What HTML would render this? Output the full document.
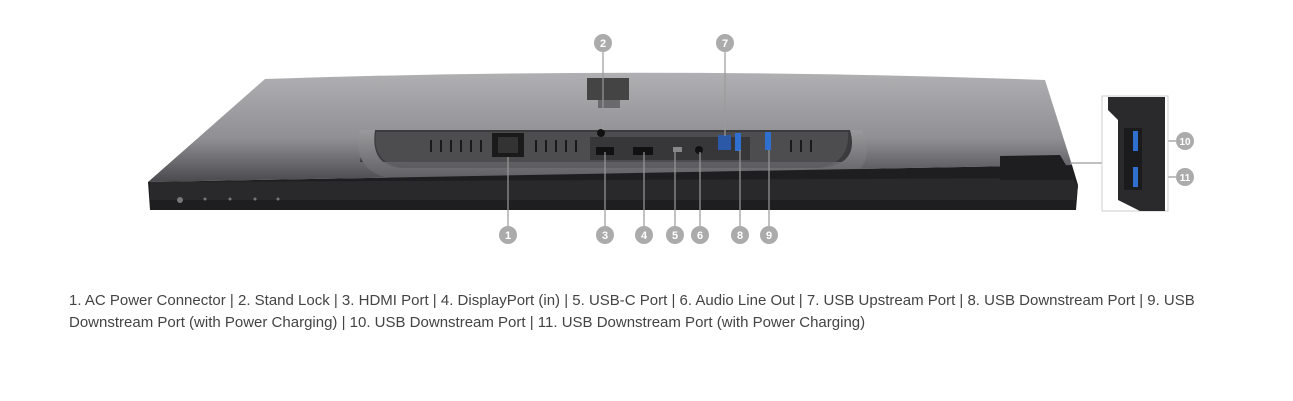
<!DOCTYPE html>
<html><head><meta charset="utf-8"><style>
body{margin:0;background:#fff;width:1293px;height:401px;overflow:hidden;position:relative}
svg{position:absolute;left:0;top:0}
.t{position:absolute;left:69px;top:290px;width:1140px;font:15px/22px "Liberation Sans",sans-serif;color:#444}
</style></head><body>
<svg width="1293" height="401" viewBox="0 0 1293 401">
<defs>
<linearGradient id="sv" x1="0" y1="0" x2="0" y2="1"><stop offset="0" stop-color="#b0b0b3"/><stop offset="0.6" stop-color="#909094"/><stop offset="1" stop-color="#4a4a4e"/></linearGradient>
<linearGradient id="st" x1="0" y1="0" x2="0" y2="1"><stop offset="0" stop-color="#9a9a9d"/><stop offset="1" stop-color="#5e5e62"/></linearGradient>
</defs>
<path d="M265 79 Q650 66 1045 80 L1072 165 L148 182 Z" fill="url(#sv)"/>
<path d="M365 130 L858 130 L862 162 L360 162 Z" fill="#3b3b3e"/>
<path d="M360 130 Q350 175 400 180 L830 180 Q880 175 862 130 L850 130 Q860 165 820 168 L400 168 Q370 165 375 130 Z" fill="url(#st)"/>
<path d="M376 132 Q372 165 405 168 L815 168 Q850 165 848 132 Z" fill="#5a5a5e" opacity="0.6"/>
<path d="M148 182 L1072 165 L1078 185 L1076 210 L150 210 Z" fill="#1e1e20"/>
<path d="M150 182 L1072 178 L1078 186 L1076 200 L150 200 Z" fill="#29292b"/>
<path d="M1000 156 L1060 155 L1070 172 L1072 180 L1000 180 Z" fill="#1e1e20"/>
<rect x="587" y="78" width="42" height="22" fill="#444"/>
<rect x="598" y="100" width="22" height="8" fill="#6a6a6d"/>
<rect x="492" y="133" width="32" height="24" fill="#1a1a1a"/>
<rect x="498" y="137" width="20" height="16" fill="#333"/>
<rect x="590" y="137" width="160" height="23" fill="#2a2a2c" opacity="0.6"/>
<rect x="596" y="147" width="18" height="8" fill="#111"/>
<rect x="633" y="147" width="20" height="8" fill="#111"/>
<rect x="673" y="147" width="9" height="5" fill="#888"/>
<circle cx="699" cy="150" r="4" fill="#111"/>
<circle cx="601" cy="133" r="4" fill="#111"/>
<rect x="718" y="135" width="13" height="15" fill="#2c58a8"/>
<rect x="735" y="133" width="6" height="18" fill="#2f6fcf"/>
<rect x="765" y="132" width="6" height="18" fill="#2f6fcf"/>
<g fill="#1a1a1a">
<rect x="430" y="140" width="2" height="12"/><rect x="440" y="140" width="2" height="12"/><rect x="450" y="140" width="2" height="12"/><rect x="460" y="140" width="2" height="12"/><rect x="470" y="140" width="2" height="12"/><rect x="480" y="140" width="2" height="12"/>
<rect x="535" y="140" width="2" height="12"/><rect x="545" y="140" width="2" height="12"/><rect x="555" y="140" width="2" height="12"/><rect x="565" y="140" width="2" height="12"/><rect x="575" y="140" width="2" height="12"/>
<rect x="790" y="140" width="2" height="12"/><rect x="800" y="140" width="2" height="12"/><rect x="810" y="140" width="2" height="12"/>
</g>
<g fill="#777"><circle cx="180" cy="200" r="3"/><circle cx="205" cy="199" r="1.5"/><circle cx="230" cy="199" r="1.5"/><circle cx="255" cy="199" r="1.5"/><circle cx="278" cy="199" r="1.5"/></g>
<g stroke="#9a9a9a" stroke-width="1.2">
<line x1="508" y1="157" x2="508" y2="226"/>
<line x1="603" y1="52" x2="603" y2="130"/>
<line x1="605" y1="152" x2="605" y2="226"/>
<line x1="644" y1="152" x2="644" y2="226"/>
<line x1="675" y1="152" x2="675" y2="226"/>
<line x1="700" y1="152" x2="700" y2="226"/>
<line x1="725" y1="52" x2="725" y2="136"/>
<line x1="740" y1="150" x2="740" y2="226"/>
<line x1="769" y1="150" x2="769" y2="226"/>
<line x1="1070" y1="163" x2="1102" y2="163"/>
<line x1="1140" y1="141" x2="1176" y2="141"/>
<line x1="1140" y1="177" x2="1176" y2="177"/>
</g>
<rect x="1102" y="96" width="66" height="115" fill="#fff" stroke="#ccc"/>
<path d="M1108 97 L1165 97 L1165 211 L1140 211 L1118 200 L1118 120 L1108 110 Z" fill="#2a2a2c"/>
<rect x="1124" y="128" width="18" height="62" fill="#1b1b1d"/>
<rect x="1133" y="131" width="5" height="20" fill="#2f6fcf"/>
<rect x="1133" y="167" width="5" height="20" fill="#2f6fcf"/>
<g fill="#ababab">
<circle cx="508" cy="235" r="9"/><circle cx="603" cy="43" r="9"/><circle cx="605" cy="235" r="9"/><circle cx="644" cy="235" r="9"/><circle cx="675" cy="235" r="9"/><circle cx="700" cy="235" r="9"/><circle cx="725" cy="43" r="9"/><circle cx="740" cy="235" r="9"/><circle cx="769" cy="235" r="9"/><circle cx="1185" cy="141" r="9"/><circle cx="1185" cy="177" r="9"/>
</g>
<g fill="#fff" font-family="Liberation Sans,sans-serif" font-weight="bold" font-size="11" text-anchor="middle">
<text x="508" y="239">1</text><text x="603" y="47">2</text><text x="605" y="239">3</text><text x="644" y="239">4</text><text x="675" y="239">5</text><text x="700" y="239">6</text><text x="725" y="47">7</text><text x="740" y="239">8</text><text x="769" y="239">9</text><text x="1185" y="145" font-size="10">10</text><text x="1185" y="181" font-size="10">11</text>
</g>
</svg>
<div class="t">1. AC Power Connector | 2. Stand Lock | 3. HDMI Port | 4. DisplayPort (in) | 5. USB-C Port | 6. Audio Line Out | 7. USB Upstream Port | 8. USB Downstream Port | 9. USB Downstream Port (with Power Charging) | 10. USB Downstream Port | 11. USB Downstream Port (with Power Charging)</div>
</body></html>
